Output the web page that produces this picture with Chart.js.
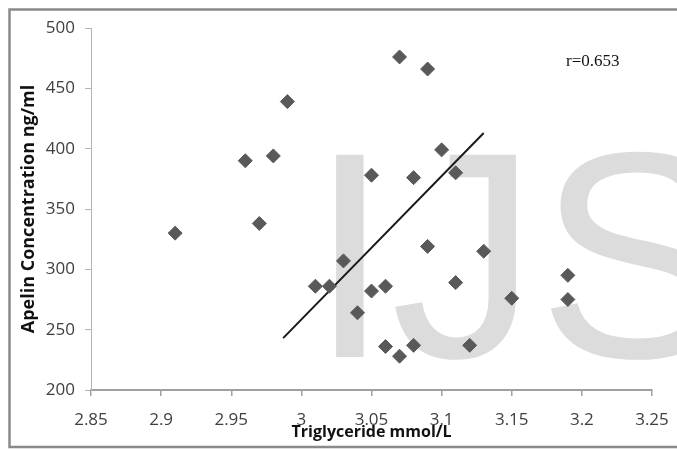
<!DOCTYPE html>
<html>
<head>
<meta charset="utf-8">
<script src="https://cdn.jsdelivr.net/npm/chart.js@4"></script>
<style>
  body { margin: 0; background: #fff; }
  #wrap { position: relative; width: 677px; height: 450px; }
</style>
</head>
<body>
<div id="wrap"><canvas id="apelinChart"></canvas></div>
<script>
  // triglyceride (mmol/L) vs apelin (ng/ml)
  const triglyceride = [2.91, 2.96, 2.97, 2.98, 2.99, 3.01, 3.02, 3.03, 3.04, 3.05, 3.05, 3.06, 3.06, 3.07,
    3.07, 3.08, 3.08, 3.09, 3.09, 3.10, 3.11, 3.11, 3.12, 3.13, 3.15, 3.19, 3.19];
  const apelin = [330, 390, 338, 394, 439, 286, 286, 307, 264, 378, 282, 286, 236, 228,
    476, 237, 376, 319, 466, 399, 380, 289, 237, 315, 276, 295, 275];

  // fitted line end points
  const trendX = [2.987, 3.13];
  const trendY = [243, 413];

  const xTicks = [2.85, 2.9, 2.95, 3, 3.05, 3.1, 3.15, 3.2, 3.25];
  const yTicks = [200, 250, 300, 350, 400, 450, 500];
  const rLabel = 'r=0.653';
  const watermark = 'IJS';

  const points = triglyceride.map((x, i) => ({ x: x, y: apelin[i] }));
  const trend = trendX.map((x, i) => ({ x: x, y: trendY[i] }));

  // grey "IJS" stamp behind the markers
  const watermarkPlugin = {
    id: 'watermark',
    beforeDatasetsDraw(chart) {
      const ctx = chart.ctx;
      ctx.save();
      ctx.font = '294px "Liberation Sans", Arial, sans-serif';
      ctx.fillStyle = '#dcdcdc';
      ctx.textBaseline = 'alphabetic';
      ctx.fillText(watermark, 309, 357);
      ctx.restore();
    }
  };

  // r value and the picture frame
  const extrasPlugin = {
    id: 'extras',
    afterDraw(chart) {
      const ctx = chart.ctx;
      ctx.save();
      ctx.font = '17px "Liberation Serif", "Times New Roman", serif';
      ctx.fillStyle = '#111';
      ctx.textBaseline = 'alphabetic';
      ctx.fillText(rLabel, 566, 66);

      ctx.strokeStyle = '#8a8a8a';
      ctx.lineWidth = 2.5;
      ctx.beginPath();
      ctx.moveTo(677, 9.5);
      ctx.lineTo(9.5, 9.5);
      ctx.lineTo(9.5, 447);
      ctx.lineTo(677, 447);
      ctx.stroke();
      ctx.restore();
    }
  };

  Chart.defaults.font.family = '"Open Sans", sans-serif';

  new Chart(document.getElementById('apelinChart'), {
    type: 'scatter',
    data: {
      datasets: [{
        data: points,
        pointStyle: 'rectRot',
        pointRadius: 7,
        pointHoverRadius: 7,
        backgroundColor: '#595959',
        borderColor: '#595959',
        borderWidth: 1
      }, {
        data: trend,
        showLine: true,
        pointRadius: 0,
        borderColor: '#1a1a1a',
        borderWidth: 2
      }]
    },
    options: {
      responsive: true,
      maintainAspectRatio: false,
      animation: false,
      layout: { autoPadding: false, padding: { left: 8, top: 28, right: 25, bottom: 8 } },
      plugins: { legend: { display: false }, tooltip: { enabled: false } },
      scales: {
        x: {
          type: 'linear',
          min: 2.85,
          max: 3.25,
          afterBuildTicks: (s) => { s.ticks = xTicks.map(v => ({ value: v })); },
          afterFit: (s) => { s.height = 52; s.paddingLeft = 0; s.paddingRight = 0; },
          grid: { drawOnChartArea: false, drawTicks: true, tickLength: 6, color: '#a0a0a0', lineWidth: 1.5 },
          border: { display: true, color: '#a0a0a0', width: 2 },
          ticks: {
            padding: 14,
            color: '#404040',
            font: { size: 17 },
            maxRotation: 0,
            callback: (v) => String(v)
          },
          title: {
            display: true,
            text: 'Triglyceride mmol/L',
            color: '#111',
            font: { size: 16, weight: 'bold' },
            padding: { top: 0, bottom: 0 }
          }
        },
        y: {
          min: 200,
          max: 500,
          afterBuildTicks: (s) => { s.ticks = yTicks.map(v => ({ value: v })); },
          afterFit: (s) => { s.width = 83; },
          grid: { drawOnChartArea: false, drawTicks: true, tickLength: 6, color: '#b4b4b4' },
          border: { display: true, color: '#b4b4b4', width: 1 },
          ticks: {
            padding: 10,
            color: '#404040',
            font: { size: 17 },
            callback: (v) => String(v)
          },
          title: {
            display: true,
            text: 'Apelin Concentration ng/ml',
            color: '#111',
            font: { size: 18, weight: 'bold' },
            padding: { top: 10, bottom: 0 }
          }
        }
      }
    },
    plugins: [watermarkPlugin, extrasPlugin]
  });
</script>
</body>
</html>
